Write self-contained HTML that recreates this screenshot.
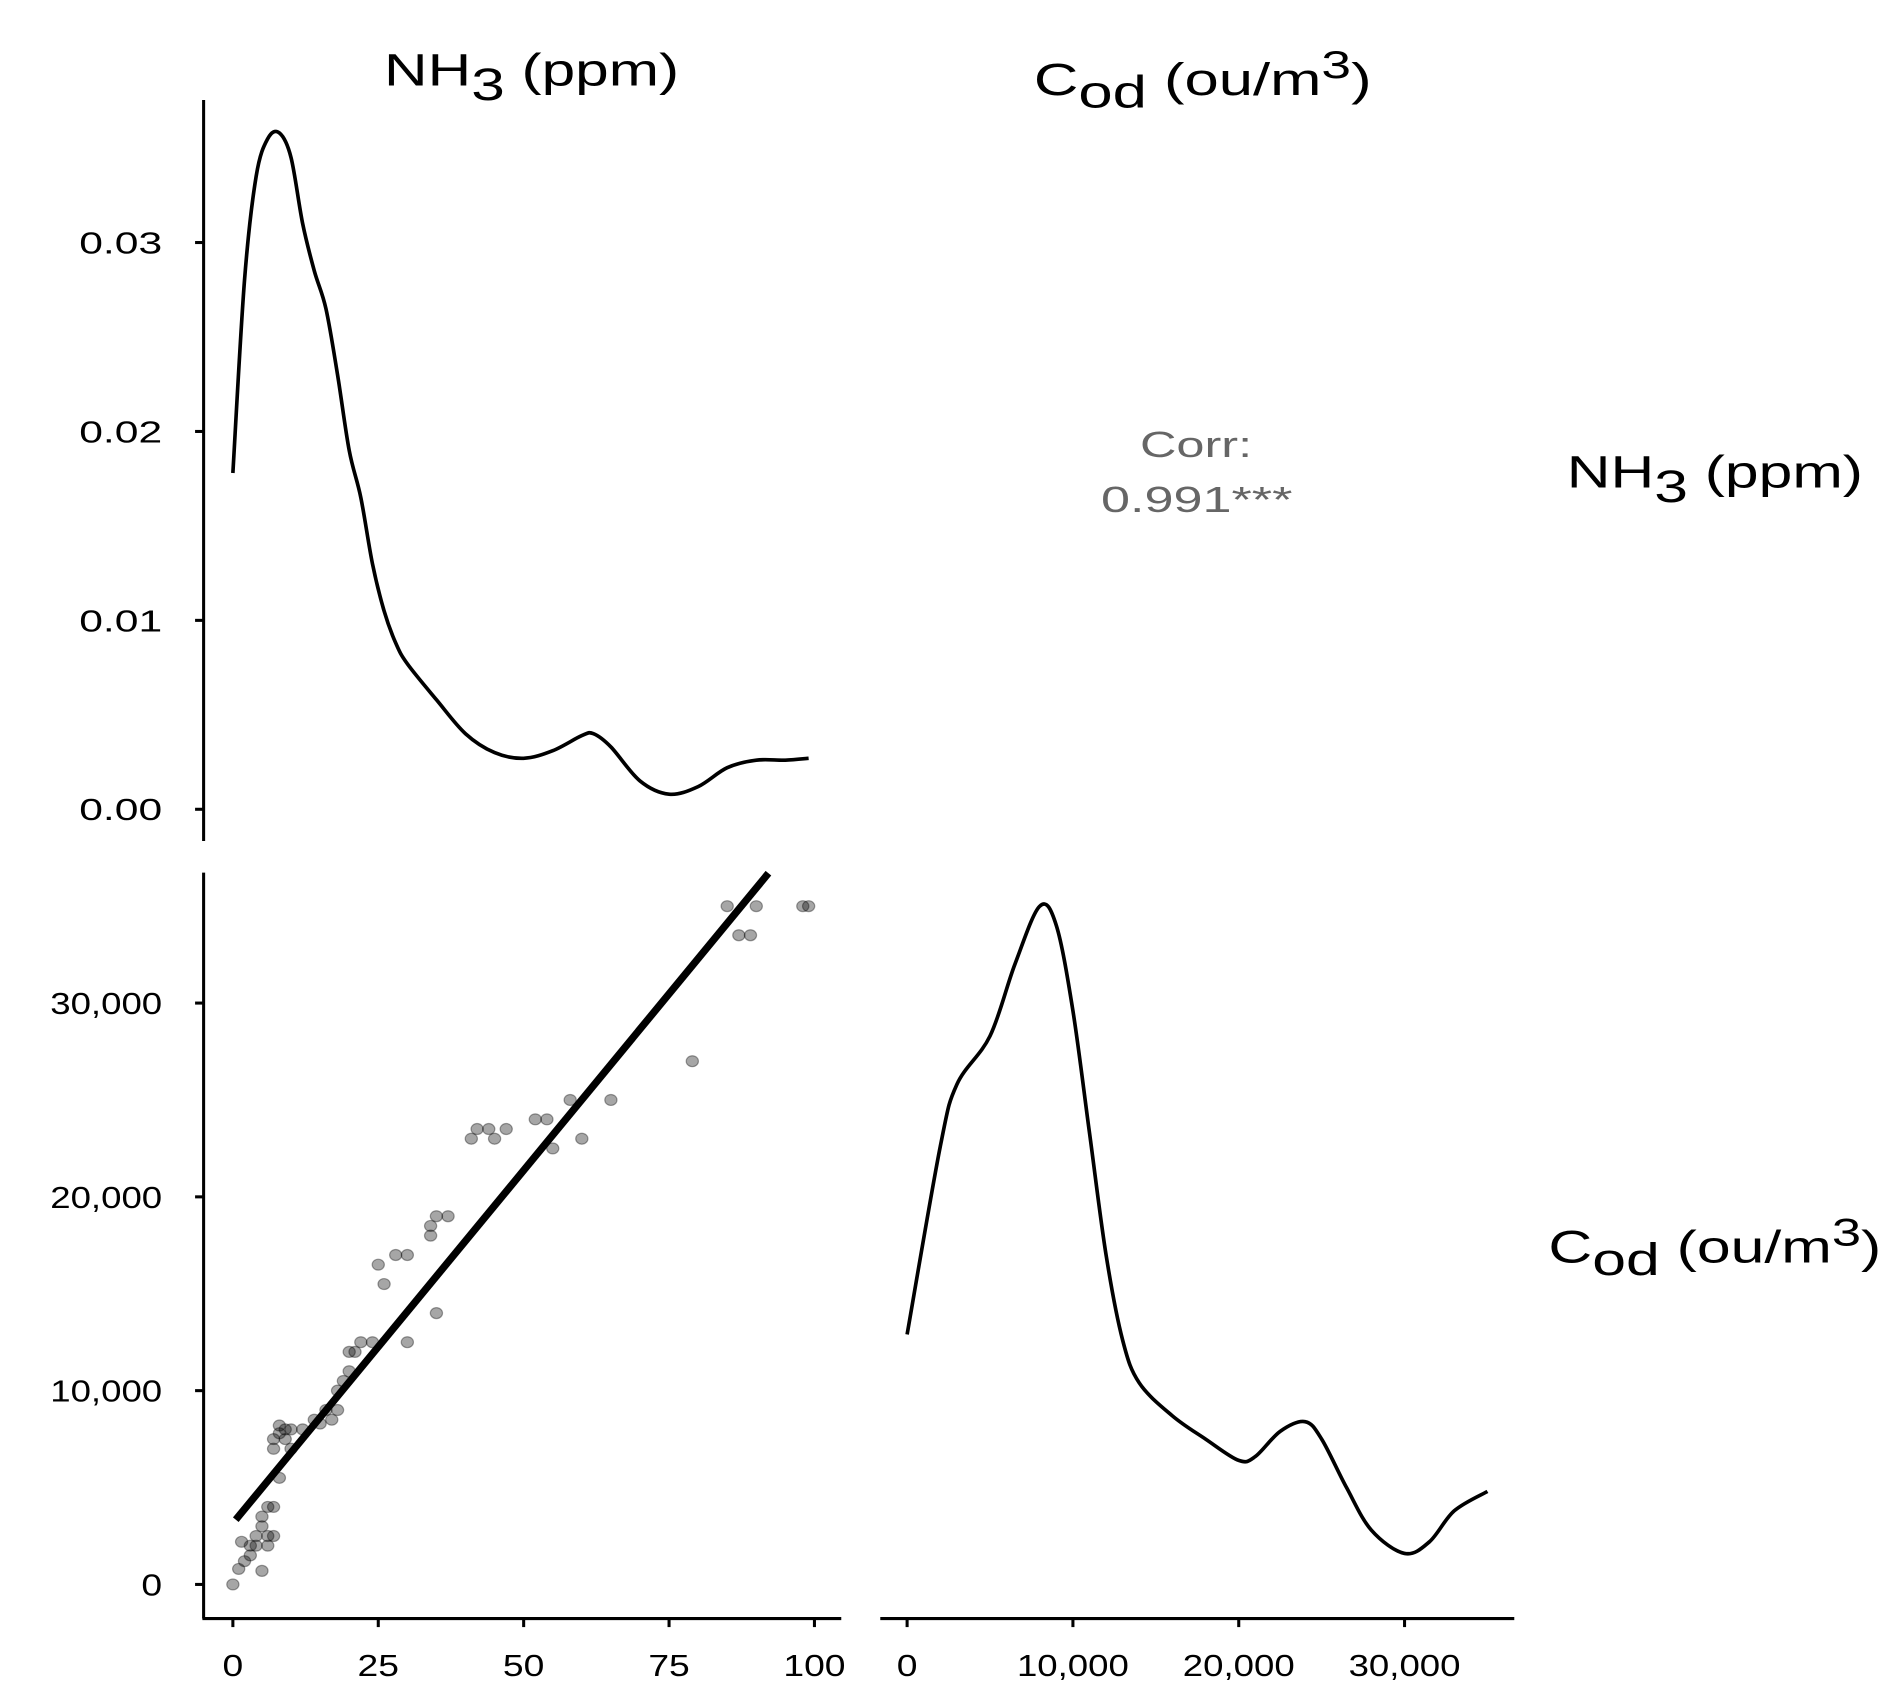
<!DOCTYPE html>
<html><head><meta charset="utf-8"><style>
html,body{margin:0;padding:0;background:#fff;}
svg{display:block;font-family:"Liberation Sans",Arial,sans-serif;}
</style></head><body>
<svg id="chart" width="1902" height="1699" viewBox="0 0 1560 1394" preserveAspectRatio="none" xmlns="http://www.w3.org/2000/svg">
<g id="axes" stroke="#000" stroke-width="2.5" fill="none">
  <line x1="167" y1="82" x2="167" y2="690"/>
  <line x1="167" y1="716" x2="167" y2="1328"/>
  <line x1="166" y1="1328" x2="690" y2="1328"/>
  <line x1="722" y1="1328" x2="1242" y2="1328"/>
</g>
<g id="ticks"></g>
<g id="marks"></g>
<g fill="#000">
  <text id="t1" x="315" y="70" font-size="37">NH<tspan dy="12">3</tspan><tspan dy="-12"> (ppm)</tspan></text>
  <text id="t2" x="848" y="78" font-size="37">C<tspan dy="10">od</tspan><tspan dy="-10"> (ou/m</tspan><tspan dy="-14" font-size="32">3</tspan><tspan dy="14">)</tspan></text>
  <text id="t3" x="1285" y="400" font-size="37">NH<tspan dy="12">3</tspan><tspan dy="-12"> (ppm)</tspan></text>
  <text id="t4" x="1270" y="1036" font-size="37">C<tspan dy="10">od</tspan><tspan dy="-10"> (ou/m</tspan><tspan dy="-14" font-size="32">3</tspan><tspan dy="14">)</tspan></text>
  <text x="935" y="375" font-size="30" fill="#666" textLength="92" lengthAdjust="spacingAndGlyphs">Corr:</text>
  <text x="903" y="420" font-size="30" fill="#666" textLength="157" lengthAdjust="spacingAndGlyphs">0.991***</text>
</g>
</svg>
<script>
const nh3DensX=[0,2,4,6,8,10,12,14,16,18,20,22,24,26,28,30,35,40,45,50,55,60,62,65,70,75,80,85,90,95,99];
const nh3DensY=[.0178,.028,.0335,.0355,.0358,.0345,.031,.0285,.0265,.023,.019,.0165,.013,.0105,.0088,.0077,.0058,.004,.003,.0027,.0031,.0039,.004,.0033,.0015,.0008,.0012,.0022,.0026,.0026,.0027];
const codDensX=[0,2000,3000,5000,6500,8000,9000,10000,11000,12000,13000,14000,16000,18000,20000,21000,22500,24000,25000,26500,28000,30000,31500,33000,35000];
const codDensY=[12.9,22.6,25.8,28.3,32,35,34,29.6,23.3,17,12.6,10.4,8.7,7.5,6.4,6.6,7.9,8.4,7.5,5,2.8,1.6,2.2,3.8,4.8];
const ptsX=[0,1,2,1.5,3,3,4,4,5,5,5,6,6,6,7,7,8,7,7,8,9,9,10,8,10,12,14,15,16,17,18,18,19,20,20,21,22,24,25,26,28,30,30,34,34,35,35,37,41,42,44,45,47,52,54,55,58,60,65,79,85,87,89,90,98,99];
const ptsY=[0,800,1200,2200,1500,2000,2000,2500,700,3000,3500,2000,2500,4000,4000,2500,5500,7000,7500,7800,8000,7500,7000,8200,8000,8000,8500,8300,9000,8500,9000,10000,10500,11000,12000,12000,12500,12500,16500,15500,17000,17000,12500,18000,18500,19000,14000,19000,23000,23500,23500,23000,23500,24000,24000,22500,25000,23000,25000,27000,35000,33500,33500,35000,35000,35000];
const ticksDens=[0,0.01,0.02,0.03], ticksDensLab=["0.00","0.01","0.02","0.03"];
const ticksCod=[0,10000,20000,30000], ticksCodLab=["0","10,000","20,000","30,000"];
const ticksNh3=[0,25,50,75,100], ticksNh3Lab=["0","25","50","75","100"];

const xN=v=>191+v*4.77;
const xC=v=>744+v*0.0136;
const yD=v=>664-v*15500;
const yC=v=>1300-v*0.0159;
const yCD=v=>1300-v*15.9;
const NS="http://www.w3.org/2000/svg";
const tg=document.getElementById('ticks'), mg=document.getElementById('marks');
function mk(tag,attrs,parent){const e=document.createElementNS(NS,tag);for(const k in attrs)e.setAttribute(k,attrs[k]);parent.appendChild(e);return e;}
const CW=17; // stretched char width
function lab(txt,x,y,anchor){
  const w=txt.length*CW*(txt.includes(',')?0.9:1);
  const x0=anchor==='end'?x-w:x-w/2;
  const t=mk('text',{x:x0,y:y,'font-size':25,textLength:w,lengthAdjust:'spacingAndGlyphs'},tg);
  t.textContent=txt;return t;
}
ticksDens.forEach((t,i)=>{
  const l=mk('line',{x1:160,x2:167,y1:yD(t),y2:yD(t),stroke:'#000','stroke-width':2.5},tg);
  
  
  const tx=lab(ticksDensLab[i],133,yD(t)+9,'end');
  
  
});
ticksCod.forEach((t,i)=>{
  const l=mk('line',{x1:160,x2:167,y1:yC(t),y2:yC(t),stroke:'#000','stroke-width':2.5},tg);
  
  
  const tx=lab(ticksCodLab[i],133,yC(t)+9,'end');
  
  
  const l2=mk('line',{x1:xC(t),x2:xC(t),y1:1328,y2:1335,stroke:'#000','stroke-width':2.5},tg);
  
  
  const tx2=lab(ticksCodLab[i],xC(t),1375,'middle');
  
  
});
ticksNh3.forEach((t,i)=>{
  const l=mk('line',{x1:xN(t),x2:xN(t),y1:1328,y2:1335,stroke:'#000','stroke-width':2.5},tg);
  
  
  const tx=lab(ticksNh3Lab[i],xN(t),1375,'middle');
  
  
});
// stretch titles horizontally to match widths
[['t1',315,557],['t2',848,1125],['t3',1285,1528],['t4',1270,1543]].forEach(([id,a,b])=>{
  const e=document.getElementById(id);const bb=e.getBBox();const s=(b-a)/bb.width;
  e.setAttribute('transform',`translate(${a},0) scale(${s},1) translate(${-bb.x},0)`);
});

function smooth(px,py){let d=`M${px[0]},${py[0]}`;for(let i=0;i<px.length-1;i++){const x0=px[Math.max(0,i-1)],y0=py[Math.max(0,i-1)],x1=px[i],y1=py[i],x2=px[i+1],y2=py[i+1],x3=px[Math.min(px.length-1,i+2)],y3=py[Math.min(px.length-1,i+2)];d+=` C${x1+(x2-x0)/6},${y1+(y2-y0)/6} ${x2-(x3-x1)/6},${y2-(y3-y1)/6} ${x2},${y2}`;}return d;}
const p1=mk('path',{d:smooth(nh3DensX.map(xN),nh3DensY.map(yD)),fill:'none',stroke:'#000','stroke-width':3},mg);


const p2=mk('path',{d:smooth(codDensX.map(xC),codDensY.map(yCD)),fill:'none',stroke:'#000','stroke-width':3},mg);



ptsX.forEach((x,i)=>{
  const c=mk('ellipse',{cx:xN(x),cy:yC(ptsY[i]),rx:5,ry:4.5,fill:'#000','fill-opacity':0.35,stroke:'#000','stroke-opacity':0.35},mg);
  
  
});
const n=ptsX.length,mx=ptsX.reduce((a,b)=>a+b)/n,my=ptsY.reduce((a,b)=>a+b)/n;
let sxy=0,sxx=0;ptsX.forEach((x,i)=>{sxy+=(x-mx)*(ptsY[i]-my);sxx+=(x-mx)**2;});
const slope=sxy/sxx,icpt=my-slope*mx;
const xEnd=Math.min(99,(36700-icpt)/slope);
const fl=mk('line',{x1:xN(0.5),y1:yC(icpt+slope*0.5),x2:xN(xEnd),y2:yC(icpt+slope*xEnd),stroke:'#000','stroke-width':6},mg);


</script>
</body></html>
